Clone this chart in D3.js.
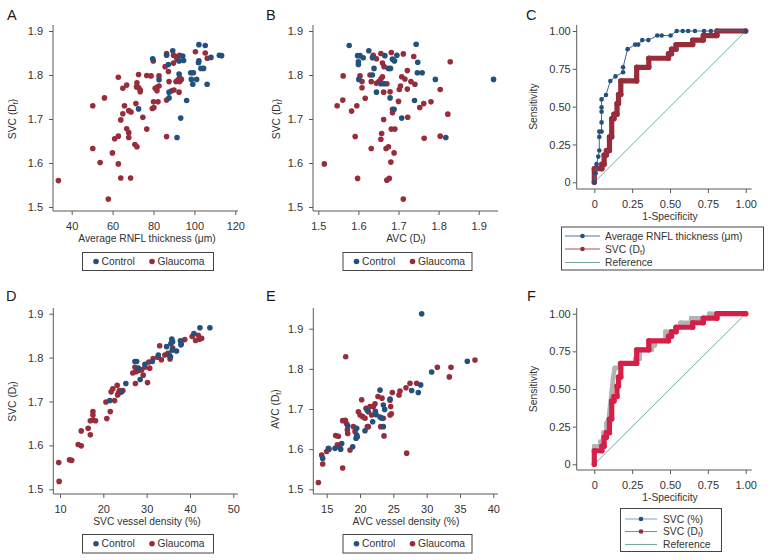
<!DOCTYPE html>
<html><head><meta charset="utf-8">
<script src="https://cdn.jsdelivr.net/npm/d3@7"></script>
<style>body{margin:0;background:#fff;} svg{display:block;}</style>
</head><body>
<script>
// ---------------- DATA ----------------
const aControl = [[79.6,1.837],[89.4,1.855],[102.2,1.869],[105.3,1.867],[112.2,1.845],[113.3,1.844],[108.1,1.840],[86.4,1.845],[87.3,1.824],[92.5,1.832],[94.3,1.843],[94.7,1.833],[102.2,1.832],[102,1.828],[103.2,1.815],[104.5,1.815],[98.2,1.805],[99.5,1.805],[92.5,1.802],[98.5,1.790],[101.1,1.790],[99.2,1.779],[106.2,1.779],[82.7,1.789],[87.6,1.761],[87.6,1.748],[96.2,1.742],[72.7,1.723],[93.3,1.702],[91.5,1.658]];
const aGlaucoma = [[33.5,1.560],[57.9,1.518],[50.3,1.633],[50.3,1.730],[56,1.748],[53.9,1.601],[59.9,1.623],[61.0,1.655],[62.8,1.661],[62.8,1.795],[62.8,1.598],[64,1.566],[68.8,1.566],[64,1.698],[65,1.712],[65,1.770],[66.9,1.777],[65.8,1.730],[66.9,1.678],[67.9,1.669],[67.9,1.658],[69,1.716],[67.9,1.719],[70.9,1.642],[71.9,1.637],[71.9,1.782],[71.7,1.773],[72.8,1.771],[73.5,1.766],[73.5,1.762],[72.7,1.801],[71.4,1.735],[74.8,1.704],[76.7,1.677],[76.7,1.799],[78.8,1.798],[79.4,1.724],[80.2,1.726],[79.9,1.832],[80,1.739],[82.2,1.739],[80.8,1.770],[81.7,1.772],[82.7,1.775],[81.7,1.764],[82.7,1.798],[86.4,1.849],[85.7,1.819],[86.4,1.660],[86.4,1.743],[87.6,1.785],[87.3,1.808],[88.9,1.764],[90,1.766],[89.8,1.845],[89.8,1.827],[91,1.842],[92.7,1.845],[91,1.785],[92,1.789],[92.8,1.785],[93.6,1.790],[92.8,1.794],[92.5,1.761],[100.5,1.853],[105.3,1.850],[106.3,1.838],[91.5,1.836]];

const bControl = [[1.577,1.867],[1.626,1.855],[1.598,1.844],[1.604,1.844],[1.600,1.830],[1.600,1.824],[1.612,1.839],[1.635,1.839],[1.639,1.815],[1.635,1.800],[1.601,1.790],[1.666,1.844],[1.675,1.815],[1.680,1.815],[1.685,1.836],[1.690,1.832],[1.696,1.845],[1.744,1.870],[1.748,1.829],[1.747,1.805],[1.759,1.805],[1.656,1.780],[1.664,1.780],[1.645,1.761],[1.679,1.748],[1.740,1.742],[1.689,1.722],[1.708,1.702],[1.792,1.790],[1.937,1.790],[1.818,1.658]];
const bGlaucoma = [[1.515,1.598],[1.562,1.798],[1.561,1.743],[1.547,1.730],[1.583,1.718],[1.596,1.730],[1.592,1.660],[1.598,1.565],[1.604,1.798],[1.609,1.785],[1.609,1.771],[1.617,1.747],[1.629,1.800],[1.632,1.785],[1.632,1.633],[1.637,1.845],[1.645,1.837],[1.645,1.781],[1.651,1.785],[1.656,1.791],[1.660,1.796],[1.656,1.849],[1.660,1.827],[1.664,1.819],[1.656,1.654],[1.658,1.667],[1.663,1.761],[1.663,1.699],[1.671,1.780],[1.669,1.633],[1.675,1.637],[1.671,1.561],[1.677,1.565],[1.679,1.762],[1.681,1.602],[1.682,1.851],[1.682,1.677],[1.691,1.677],[1.685,1.722],[1.685,1.714],[1.689,1.623],[1.700,1.740],[1.712,1.518],[1.712,1.848],[1.702,1.767],[1.705,1.775],[1.708,1.796],[1.716,1.791],[1.722,1.810],[1.722,1.768],[1.723,1.704],[1.731,1.785],[1.738,1.842],[1.741,1.779],[1.753,1.726],[1.763,1.735],[1.764,1.656],[1.781,1.739],[1.804,1.767],[1.804,1.661],[1.829,1.830],[1.823,1.711]];

const dControl = [[42.3,1.868],[44.6,1.868],[40.9,1.855],[37.8,1.838],[36,1.836],[35.8,1.842],[35.6,1.832],[37.9,1.829],[34.6,1.825],[35.9,1.817],[36.9,1.815],[35.2,1.806],[35.5,1.802],[32.7,1.806],[31.3,1.791],[29.6,1.785],[27.3,1.791],[27.7,1.791],[28.1,1.776],[28.5,1.750],[25.2,1.741],[24.2,1.722],[21.5,1.702]];
const dGlaucoma = [[9.7,1.561],[9.8,1.518],[12.2,1.567],[12.7,1.566],[14.2,1.602],[14.9,1.599],[14.9,1.633],[16.5,1.639],[17,1.624],[17,1.656],[17.7,1.658],[18.2,1.656],[17.6,1.677],[17.6,1.669],[20.8,1.661],[20.6,1.699],[21.6,1.677],[21.8,1.722],[22.2,1.729],[22.6,1.702],[23.2,1.737],[23.7,1.725],[23.5,1.719],[24.1,1.722],[24.5,1.725],[23.3,1.715],[27.3,1.778],[27.5,1.768],[27.4,1.741],[30.2,1.743],[28.1,1.770],[28.8,1.772],[29.2,1.760],[29.6,1.778],[30.7,1.776],[33,1.827],[33.4,1.795],[34.2,1.806],[34.9,1.810],[32.6,1.801],[35.4,1.797],[36,1.822],[38.8,1.841],[38,1.831],[40.5,1.848],[41.3,1.839],[42.2,1.842],[41.9,1.851],[42.7,1.844],[30.5,1.790],[31.5,1.798],[26.8,1.765]];

const eControl = [[29.25,1.937],[36.1,1.819],[30.75,1.792],[29.1,1.760],[27.75,1.746],[28.75,1.741],[23,1.747],[24.5,1.725],[23.5,1.710],[23.7,1.699],[22.3,1.694],[22.4,1.686],[23,1.680],[23.25,1.677],[21.9,1.668],[21.1,1.697],[20.75,1.646],[23.5,1.656],[19.5,1.652],[19.4,1.627],[19.5,1.635],[18.15,1.658],[18.9,1.606],[17.1,1.600],[17.25,1.614],[16.25,1.602],[15.25,1.602],[14.4,1.577]];
const eGlaucoma = [[13.75,1.517],[14.25,1.585],[14.4,1.563],[15,1.594],[15.35,1.600],[16.35,1.634],[16.75,1.632],[16.6,1.611],[16.9,1.606],[17.4,1.553],[17.85,1.830],[17.4,1.671],[17.8,1.672],[18,1.663],[18.1,1.648],[18.15,1.639],[18.5,1.598],[19,1.656],[19.25,1.644],[19.6,1.631],[19.75,1.693],[20,1.685],[20.4,1.681],[20.75,1.677],[20.25,1.723],[21.1,1.656],[21.25,1.656],[20.9,1.702],[21.25,1.693],[21.5,1.706],[21.75,1.685],[22,1.706],[22.25,1.713],[22.7,1.731],[23.1,1.656],[23.3,1.727],[23.6,1.633],[23.5,1.677],[24.5,1.722],[24.6,1.706],[24.7,1.688],[24.5,1.685],[24.85,1.741],[25.85,1.735],[26,1.745],[26.9,1.753],[27,1.590],[27.5,1.764],[28.5,1.764],[31.6,1.804],[33.4,1.780],[33.65,1.804],[37.25,1.822]];

// ROC curves: [1-specificity, sensitivity]
const rocRNFL = [[0,0],[0.009,0.06],[0.015,0.12],[0.026,0.17],[0.033,0.21],[0.033,0.30],[0.033,0.335],[0.048,0.335],[0.048,0.396],[0.048,0.467],[0.048,0.496],[0.048,0.548],[0.077,0.577],[0.106,0.67],[0.14,0.70],[0.19,0.727],[0.19,0.76],[0.22,0.88],[0.27,0.91],[0.29,0.91],[0.317,0.94],[0.357,0.94],[0.416,0.97],[0.445,0.97],[0.504,0.97],[0.544,1],[0.584,1],[0.62,1],[0.665,1],[0.725,1],[0.77,1],[1,1]];
const rocSVCDf = [[0,0],[0,0.09],[0.05,0.09],[0.05,0.12],[0.065,0.12],[0.065,0.18],[0.08,0.18],[0.08,0.21],[0.1,0.21],[0.1,0.3],[0.115,0.3],[0.115,0.42],[0.13,0.42],[0.13,0.45],[0.15,0.45],[0.15,0.52],[0.16,0.52],[0.16,0.58],[0.175,0.58],[0.175,0.67],[0.28,0.67],[0.28,0.76],[0.36,0.76],[0.36,0.82],[0.49,0.82],[0.49,0.85],[0.51,0.85],[0.51,0.88],[0.54,0.88],[0.54,0.91],[0.65,0.91],[0.65,0.94],[0.72,0.94],[0.72,0.97],[0.81,0.97],[0.81,1],[1,1]];
const rocSVCPct = [[0,0],[0,0.12],[0.04,0.12],[0.04,0.15],[0.06,0.15],[0.06,0.21],[0.08,0.21],[0.08,0.27],[0.095,0.3],[0.105,0.39],[0.115,0.48],[0.125,0.58],[0.135,0.64],[0.17,0.64],[0.17,0.67],[0.27,0.67],[0.27,0.7],[0.3,0.7],[0.3,0.76],[0.38,0.76],[0.38,0.79],[0.4,0.79],[0.4,0.82],[0.47,0.82],[0.47,0.88],[0.54,0.88],[0.54,0.91],[0.57,0.91],[0.57,0.94],[0.64,0.94],[0.64,0.97],[0.76,0.97],[0.76,1],[1,1]];
const rocReference = [[0,0],[1,1]];

const ticksAx = [40,60,80,100,120];
const ticksBx = [1.5,1.6,1.7,1.8,1.9];
const ticksDx = [10,20,30,40,50];
const ticksEx = [15,20,25,30,35,40];
const ticksDfY = [1.5,1.6,1.7,1.8,1.9];
const ticksRoc = [0,0.25,0.5,0.75,1];
const rocTickLabels = ["0","0.25","0.50","0.75","1.00"];

// ---------------- STYLE ----------------
const FONT = "'Liberation Sans', Arial, Helvetica, sans-serif";
const AX = "#5a5a5a", TXT = "#333";
const NAVY = "#23507d", MAROON = "#982c3a", TEAL = "#72aa9f", CRIMSON = "#d42048", GREY = "#b3b3b3";

const svg = d3.select("body").append("svg").attr("width",770).attr("height",560)
  .style("font-family", FONT);

function dfText(sel, prefix){
  sel.append("tspan").text(prefix + " (D");
  sel.append("tspan").attr("dy", 2).style("font-size","7px").text("f");
  sel.append("tspan").attr("dy", -2).text(")");
}

function panel(c){
  const x = d3.scaleLinear().domain(c.xd).range(c.xr);
  const y = d3.scaleLinear().domain(c.yd).range(c.yr);
  const g = svg.append("g");
  g.append("line").attr("x1",c.ax).attr("x2",c.ax).attr("y1",c.yTop).attr("y2",c.ay).attr("stroke",AX);
  g.append("line").attr("x1",c.ax).attr("x2",c.xEnd).attr("y1",c.ay).attr("y2",c.ay).attr("stroke",AX);
  const gx = g.append("g").attr("transform",`translate(0,${c.ay})`)
    .call(d3.axisBottom(x).tickValues(c.xt).tickFormat(c.xf).tickSize(4).tickPadding(7));
  gx.select(".domain").remove();
  const gy = g.append("g").attr("transform",`translate(${c.ax},0)`)
    .call(d3.axisLeft(y).tickValues(c.yt).tickFormat(c.yf).tickSize(4).tickPadding(c.ypad));
  gy.select(".domain").remove();
  g.selectAll(".tick line").attr("stroke",AX);
  g.selectAll(".tick text").attr("fill",TXT).style("font-size","11px").style("font-family",FONT);
  const xt = g.append("text").attr("x",c.xtx).attr("y",c.ay+27).attr("dy","0.35em")
    .attr("text-anchor","middle").attr("fill",TXT).style("font-size","10.3px");
  if (c.xDf) dfText(xt, c.xTitle); else xt.text(c.xTitle);
  const ym = (c.yr[0]+c.yr[1])/2;
  const yt = g.append("text").attr("transform",`translate(${c.ytx},${ym}) rotate(-90)`).attr("dy","0.35em")
    .attr("text-anchor","middle").attr("fill",TXT).style("font-size","10.3px");
  if (c.yDf) dfText(yt, c.yTitle); else yt.text(c.yTitle);
  g.append("text").attr("x",c.lx).attr("y",c.ly).attr("fill","#1a1a1a").style("font-size","14.5px").text(c.letter);
  return {x,y,g};
}

function scatter(p, ctrl, glau){
  p.g.append("g").selectAll("circle").data(glau).join("circle")
    .attr("cx",d=>p.x(d[0])).attr("cy",d=>p.y(d[1])).attr("r",2.8).attr("fill",MAROON);
  p.g.append("g").selectAll("circle").data(ctrl).join("circle")
    .attr("cx",d=>p.x(d[0])).attr("cy",d=>p.y(d[1])).attr("r",2.8).attr("fill",NAVY);
}

function scatterLegend(x0,y0,x1,y1){
  const g = svg.append("g");
  g.append("rect").attr("x",x0+0.5).attr("y",y0+0.5).attr("width",x1-x0).attr("height",y1-y0)
    .attr("fill","#fff").attr("stroke","#444");
  const cy = (y0+y1)/2 + 0.5;
  g.append("circle").attr("cx",x0+14).attr("cy",cy).attr("r",2.8).attr("fill",NAVY);
  g.append("text").attr("x",x0+19.5).attr("y",cy).attr("dy","0.35em").attr("fill",TXT).style("font-size","10.3px").text("Control");
  g.append("circle").attr("cx",x0+70).attr("cy",cy).attr("r",2.8).attr("fill",MAROON);
  g.append("text").attr("x",x0+75.5).attr("y",cy).attr("dy","0.35em").attr("fill",TXT).style("font-size","10.3px").text("Glaucoma");
}

const fmt1 = d3.format(".1f");
const fmtInt = d3.format("d");
const fmtRoc = (d,i)=>rocTickLabels[i];

// ---- Panel A ----
const pA = panel({xd:[40,120], xr:[71.7,235.3], yd:[1.5,1.9], yr:[207,31], ax:53, ay:211, xEnd:238, yTop:25,
  xt:ticksAx, xf:fmtInt, yt:ticksDfY, yf:fmt1, ypad:6, xTitle:"Average RNFL thickness (μm)", xtx:147,
  yTitle:"SVC", yDf:true, ytx:12, letter:"A", lx:7, ly:20});
scatter(pA, aControl, aGlaucoma);
scatterLegend(82,252,213,270);

// ---- Panel B ----
const pB = panel({xd:[1.5,1.9], xr:[318.3,478.7], yd:[1.5,1.9], yr:[207,31], ax:313, ay:211, xEnd:498, yTop:25,
  xt:ticksBx, xf:fmt1, yt:ticksDfY, yf:fmt1, ypad:6, xTitle:"AVC", xDf:true, xtx:406,
  yTitle:"SVC", yDf:true, ytx:276, letter:"B", lx:266, ly:20});
scatter(pB, bControl, bGlaucoma);
scatterLegend(342.5,252,471.5,270);

// ---- Panel D ----
const pD = panel({xd:[10,50], xr:[60,233.3], yd:[1.5,1.9], yr:[489.3,313.7], ax:53.3, ay:494, xEnd:238, yTop:308,
  xt:ticksDx, xf:fmtInt, yt:ticksDfY, yf:fmt1, ypad:6, xTitle:"SVC vessel density (%)", xtx:147,
  yTitle:"SVC", yDf:true, ytx:12, letter:"D", lx:6, ly:301});
scatter(pD, dControl, dGlaucoma);
scatterLegend(82,534,213,552.5);

// ---- Panel E ----
const pE = panel({xd:[15,40], xr:[326.7,493.3], yd:[1.5,1.9], yr:[489.3,328.7], ax:313.3, ay:494, xEnd:498, yTop:308,
  xt:ticksEx, xf:fmtInt, yt:ticksDfY, yf:fmt1, ypad:6, xTitle:"AVC vessel density (%)", xtx:406,
  yTitle:"AVC", yDf:true, ytx:275, letter:"E", lx:266, ly:301});
scatter(pE, eControl, eGlaucoma);
scatterLegend(342.5,534,471.5,552.5);

// ---- ROC helpers ----
function rocLine(p, data, color, width){
  const line = d3.line().x(d=>p.x(d[0])).y(d=>p.y(d[1]));
  p.g.append("path").attr("d",line(data)).attr("fill","none").attr("stroke",color)
    .attr("stroke-width",width).attr("stroke-linejoin","round").attr("stroke-linecap","round");
}
function rocMarkers(p, data, color, r){
  p.g.append("g").selectAll("circle").data(data).join("circle")
    .attr("cx",d=>p.x(d[0])).attr("cy",d=>p.y(d[1])).attr("r",r).attr("fill",color);
}
function rocLegend(x0,y0,x1,y1,rows,rowsY,lx0,lx1,tx){
  const g = svg.append("g");
  g.append("rect").attr("x",x0+0.5).attr("y",y0+0.5).attr("width",x1-x0).attr("height",y1-y0)
    .attr("fill","#fff").attr("stroke","#444");
  rows.forEach((r,i)=>{
    const yy = rowsY[i];
    g.append("line").attr("x1",lx0).attr("x2",lx1).attr("y1",yy).attr("y2",yy).attr("stroke",r.line).attr("stroke-width",1.1);
    if (r.marker) g.append("circle").attr("cx",(lx0+lx1)/2).attr("cy",yy).attr("r",2.3).attr("fill",r.marker);
    const t = g.append("text").attr("x",tx).attr("y",yy).attr("dy","0.35em").attr("fill",TXT).style("font-size","10.3px");
    if (r.df) dfText(t, r.label); else t.text(r.label);
  });
}

// ---- Panel C ----
const pC = panel({xd:[0,1], xr:[594.3,745.7], yd:[0,1], yr:[182.3,31], ax:576.7, ay:189, xEnd:751.7, yTop:25,
  xt:ticksRoc, xf:fmtRoc, yt:ticksRoc, yf:fmtRoc, ypad:2, xTitle:"1-Specificity", xtx:670,
  yTitle:"Sensitivity", ytx:533, letter:"C", lx:526, ly:20});
rocLine(pC, rocReference, TEAL, 1);
rocLine(pC, rocSVCDf, MAROON, 5.2);
rocMarkers(pC, rocSVCDf, MAROON, 2.7);
rocLine(pC, rocRNFL, "#3d6791", 1);
rocMarkers(pC, rocRNFL, NAVY, 2.3);
rocLegend(561,226.5,763,269.5,
  [{line:"#4a73a0",marker:NAVY,label:"Average RNFL thickness (μm)"},
   {line:"#b0505c",marker:MAROON,label:"SVC",df:true},
   {line:TEAL,label:"Reference"}],
  [236,249,262.5],565,600,605);

// ---- Panel F ----
const pF = panel({xd:[0,1], xr:[594.3,745.7], yd:[0,1], yr:[464.3,313.7], ax:576.7, ay:470, xEnd:751.7, yTop:308,
  xt:ticksRoc, xf:fmtRoc, yt:ticksRoc, yf:fmtRoc, ypad:2, xTitle:"1-Specificity", xtx:670,
  yTitle:"Sensitivity", ytx:533, letter:"F", lx:527, ly:301});
rocLine(pF, rocReference, TEAL, 1);
rocLine(pF, rocSVCPct, GREY, 4.6);
rocMarkers(pF, rocSVCPct, GREY, 2.4);
rocLine(pF, rocSVCDf, CRIMSON, 5.2);
rocMarkers(pF, rocSVCDf, CRIMSON, 2.7);
rocLegend(620,508,721,551,
  [{line:"#8ea6bd",marker:NAVY,label:"SVC (%)"},
   {line:"#c9707a",marker:MAROON,label:"SVC",df:true},
   {line:TEAL,label:"Reference"}],
  [519,531.5,544.5],625,657,663);
</script>
</body></html>
